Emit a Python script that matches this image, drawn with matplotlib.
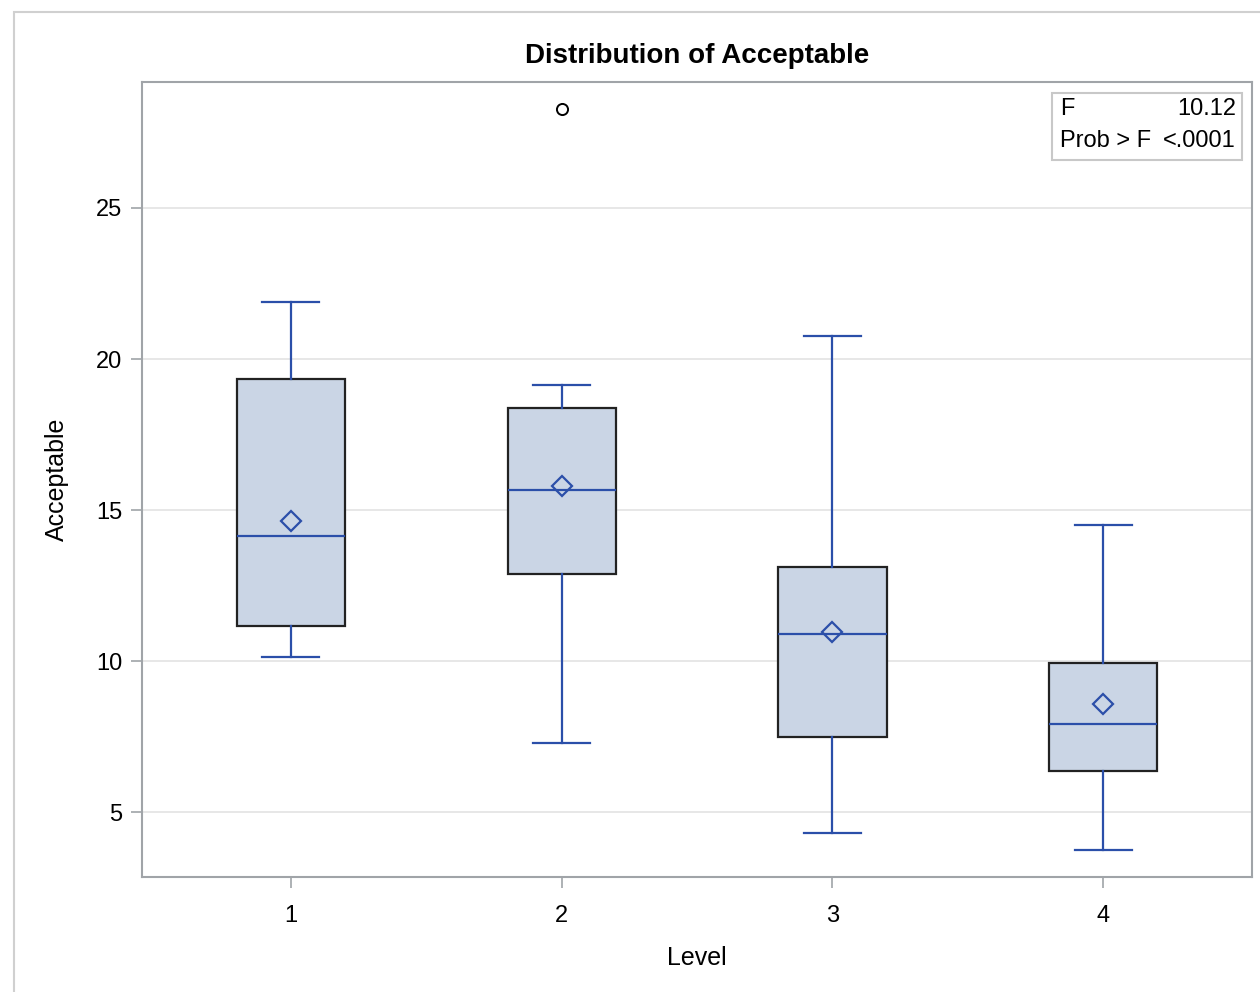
import matplotlib.pyplot as plt
from matplotlib.patches import Rectangle

plt.rcParams['font.family'] = ['Liberation Sans', 'DejaVu Sans']

levels = [1, 2, 3, 4]
whisker_low = [10.13, 7.28, 4.30, 3.74]
q1 = [11.16, 12.88, 7.48, 6.36]
median = [14.14, 15.66, 10.89, 7.91]
mean = [14.64, 15.79, 10.96, 8.58]
q3 = [19.34, 18.38, 13.11, 9.93]
whisker_high = [21.89, 19.14, 20.76, 14.50]
outliers = [[], [28.28], [], []]

blue = '#2B4FA9'
fill = '#CAD5E5'

stats = []
for i in range(len(levels)):
    stats.append(dict(label=str(levels[i]), whislo=whisker_low[i], q1=q1[i], med=median[i],
                      mean=mean[i], q3=q3[i], whishi=whisker_high[i], fliers=outliers[i]))

fig = plt.figure(figsize=(12.6, 9.92), dpi=100)
ax = fig.add_axes([0.1127, 0.1159, 0.8810, 0.8014])

# light frame around the whole graph
fig.patches.append(Rectangle((14 / 1260, -0.1), 1.1, (992 - 12) / 992 + 0.1,
                             transform=fig.transFigure, fill=False, ec='#D0D0D0', lw=1.5))

ax.bxp(stats, positions=levels, widths=0.4, showmeans=True, patch_artist=True,
       boxprops=dict(facecolor=fill, edgecolor='#222222', linewidth=1.6),
       medianprops=dict(color=blue, linewidth=1.6),
       whiskerprops=dict(color=blue, linewidth=1.6),
       capprops=dict(color=blue, linewidth=1.6),
       capwidths=0.21,
       meanprops=dict(marker='D', markerfacecolor='none', markeredgecolor=blue,
                      markersize=10, markeredgewidth=1.6),
       flierprops=dict(marker='o', markerfacecolor='none', markeredgecolor='black',
                       markersize=8, markeredgewidth=1.4))

ax.set_xlim(0.45, 4.55)
ax.set_ylim(2.85, 29.17)
ax.set_yticks([5, 10, 15, 20, 25])
ax.yaxis.grid(True, color='#E3E3E3', linewidth=1.2)
ax.set_axisbelow(True)

for s in ax.spines.values():
    s.set_color('#A0A4A8')
    s.set_linewidth(1.5)
ax.tick_params(colors='#A0A4A8', labelcolor='black', labelsize=17, length=8, width=1.2)
ax.tick_params(axis='x', pad=12)
ax.tick_params(axis='y', pad=6)

ax.set_title('Distribution of Acceptable', fontsize=20, fontweight='bold', pad=14)
ax.set_xlabel('Level', fontsize=18, labelpad=14)
ax.set_ylabel('Acceptable', fontsize=18, labelpad=20)

# statistics inset
fig.patches.append(Rectangle((1052 / 1260, 1 - 160 / 992), 190 / 1260, 67 / 992,
                             transform=fig.transFigure, fill=False, ec='#C8C8C8', lw=1.5))
fig.text(1060 / 1260, 1 - 109 / 992, 'F', fontsize=17, va='center', ha='left')
fig.text(1236 / 1260, 1 - 109 / 992, '10.12', fontsize=17, va='center', ha='right')
fig.text(1060 / 1260, 1 - 141 / 992, 'Prob > F', fontsize=17, va='center', ha='left')
fig.text(1236 / 1260, 1 - 141 / 992, '<.0001', fontsize=17, va='center', ha='right')

fig.savefig('out.png', dpi=100)
